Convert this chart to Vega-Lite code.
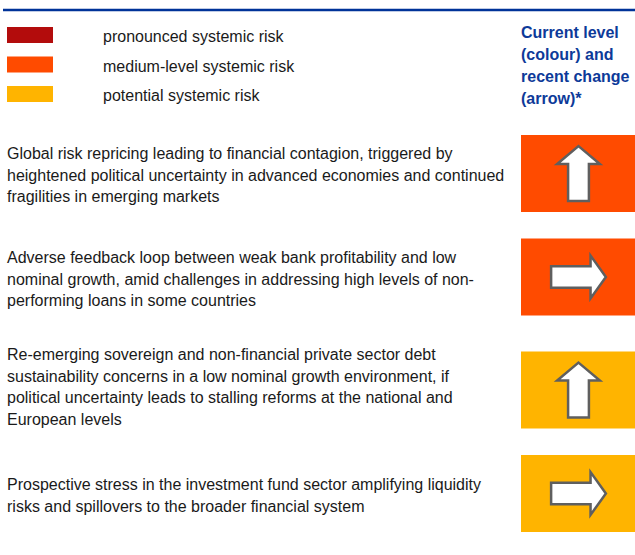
{
  "$schema": "https://vega.github.io/schema/vega-lite/v6.json",
  "width": 635,
  "height": 555,
  "autosize": {"type": "none"},
  "padding": 0,
  "background": "white",
  "config": {"view": {"stroke": null}, "font": "Liberation Sans"},
  "datasets": {
    "legend": [
      {"rank": 1, "level": "pronounced", "label": "pronounced systemic risk"},
      {"rank": 2, "level": "medium", "label": "medium-level systemic risk"},
      {"rank": 3, "level": "potential", "label": "potential systemic risk"}
    ],
    "risks": [
      {"row": 1, "level": "medium", "change": "up", "text": "Global risk repricing leading to financial contagion, triggered by\nheightened political uncertainty in advanced economies and continued\nfragilities in emerging markets"},
      {"row": 2, "level": "medium", "change": "right", "text": "Adverse feedback loop between weak bank profitability and low\nnominal growth, amid challenges in addressing high levels of non-\nperforming loans in some countries"},
      {"row": 3, "level": "potential", "change": "up", "text": "Re-emerging sovereign and non-financial private sector debt\nsustainability concerns in a low nominal growth environment, if\npolitical uncertainty leads to stalling reforms at the national and\nEuropean levels"},
      {"row": 4, "level": "potential", "change": "right", "text": "Prospective stress in the investment fund sector amplifying liquidity\nrisks and spillovers to the broader financial system"}
    ]
  },
  "resolve": {"scale": {"y": "independent"}},
  "layer": [
    {
      "layer": [
        {
          "data": {"values": [{}]},
          "mark": {"type": "rule", "color": "#003399", "strokeWidth": 2.5},
          "encoding": {
            "x": {"datum": 3, "type": "quantitative", "scale": {"domain": [0, 635], "nice": false, "zero": false}, "axis": null},
            "x2": {"datum": 635},
            "y": {"datum": 10, "type": "quantitative", "scale": {"domain": [0, 555], "reverse": true, "nice": false, "zero": false}, "axis": null}
          }
        },
        {
          "data": {"values": [{"t": "Current level\n(colour) and\nrecent change\n(arrow)*"}]},
          "mark": {"type": "text", "align": "left", "baseline": "middle", "lineBreak": "\n", "lineHeight": 22, "fontSize": 16, "fontWeight": "bold", "color": "#0d3a99"},
          "encoding": {
            "x": {"datum": 521, "type": "quantitative", "scale": {"domain": [0, 635], "nice": false, "zero": false}, "axis": null},
            "y": {"datum": 33, "type": "quantitative", "axis": null},
            "text": {"field": "t"}
          }
        }
      ]
    },
    {
      "data": {"name": "legend"},
      "layer": [
        {
          "mark": {"type": "rect", "height": 16},
          "encoding": {
            "x": {"datum": 7, "type": "quantitative", "scale": {"domain": [0, 635], "nice": false, "zero": false}, "axis": null},
            "x2": {"datum": 53},
            "y": {"field": "rank", "type": "quantitative", "scale": {"domain": [1, 3], "range": [35, 94], "nice": false, "zero": false}, "axis": null},
            "color": {"field": "level", "type": "nominal", "scale": {"domain": ["pronounced", "medium", "potential"], "range": ["#b30c0c", "#ff4b00", "#ffb400"]}, "legend": null}
          }
        },
        {
          "mark": {"type": "text", "align": "left", "baseline": "middle", "fontSize": 16, "color": "#1a1a1a", "dy": 2},
          "encoding": {
            "x": {"datum": 103, "type": "quantitative", "scale": {"domain": [0, 635], "nice": false, "zero": false}, "axis": null},
            "y": {"field": "rank", "type": "quantitative", "axis": null},
            "text": {"field": "label"}
          }
        }
      ]
    },
    {
      "data": {"name": "risks"},
      "resolve": {"scale": {"y": "independent"}},
      "layer": [
        {
          "layer": [
            {
              "mark": {"type": "rect", "height": 77},
              "encoding": {
                "x": {"datum": 521, "type": "quantitative", "scale": {"domain": [0, 635], "nice": false, "zero": false}, "axis": null},
                "x2": {"datum": 635},
                "y": {"field": "row", "type": "quantitative", "scale": {"domain": [1, 2, 3, 4], "range": [173.5, 277, 390, 493.5], "nice": false, "zero": false}, "axis": null},
                "color": {"field": "level", "type": "nominal", "scale": {"domain": ["pronounced", "medium", "potential"], "range": ["#b30c0c", "#ff4b00", "#ffb400"]}, "legend": null}
              }
            },
            {
              "mark": {"type": "point", "filled": true, "fill": "white", "stroke": "#5f5f5f", "strokeWidth": 2.5, "opacity": 1, "size": 3000},
              "encoding": {
                "x": {"datum": 578.5, "type": "quantitative", "scale": {"domain": [0, 635], "nice": false, "zero": false}, "axis": null},
                "y": {"field": "row", "type": "quantitative", "axis": null},
                "shape": {"field": "change", "type": "nominal", "scale": {"domain": ["up", "right"], "range": ["M0,-1L0.78,-0.345L0.38,-0.345L0.38,1L-0.38,1L-0.38,-0.345L-0.78,-0.345Z", "M1,0L0.44,0.78L0.44,0.39L-1,0.39L-1,-0.39L0.44,-0.39L0.44,-0.78Z"]}, "legend": null}
              }
            }
          ]
        },
        {
          "mark": {"type": "text", "align": "left", "baseline": "middle", "lineBreak": "\n", "lineHeight": 21.5, "fontSize": 16, "color": "#1a1a1a"},
          "encoding": {
            "x": {"datum": 7, "type": "quantitative", "scale": {"domain": [0, 635], "nice": false, "zero": false}, "axis": null},
            "y": {"field": "row", "type": "quantitative", "scale": {"domain": [1, 2, 3, 4], "range": [154, 258, 355, 485], "nice": false, "zero": false}, "axis": null},
            "text": {"field": "text"}
          }
        }
      ]
    }
  ]
}
